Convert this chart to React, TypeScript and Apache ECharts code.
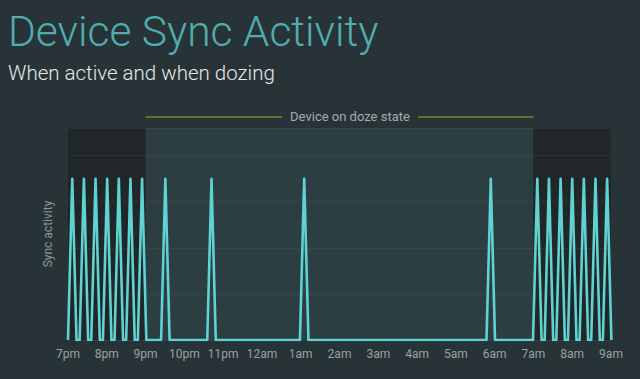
import React, { useEffect, useRef } from "react";
import * as echarts from "echarts";

const tickLabels = ["7pm", "8pm", "9pm", "10pm", "11pm", "12am", "1am", "2am", "3am", "4am", "5am", "6am", "7am", "8am", "9am"];
const activeBeforeSpikes = [0.11, 0.41, 0.71, 1.01, 1.31, 1.61, 1.91];
const dozeSpikes = [2.51, 3.7, 6.09, 10.9];
const activeAfterSpikes = [12.1, 12.4, 12.7, 13.0, 13.3, 13.6, 13.9];
const spikeHeight = 3.5;
const spikeHalfWidth = 0.11;
const dozeStart = 2;
const dozeEnd = 12;
const hoursMax = 14;

const BG = "#283337";
const DARK = "#212729";
const DOZE = "#2c3e42";
const LINE = "#5fd2d2";

function buildLine(): number[][] {
  const times = [...activeBeforeSpikes, ...dozeSpikes, ...activeAfterSpikes];
  const pts: number[][] = [];
  times.forEach((t) => {
    pts.push([t - spikeHalfWidth, 0]);
    pts.push([t, spikeHeight]);
    pts.push([t + spikeHalfWidth, 0]);
  });
  return pts;
}

export default function App() {
  const ref = useRef<HTMLDivElement>(null);
  useEffect(() => {
    document.body.style.margin = "0";
    const chart = echarts.init(ref.current!, null, { renderer: "svg" });
    chart.setOption({
      animation: false,
      backgroundColor: BG,
      title: [
        {
          text: "Device Sync Activity",
          left: 3,
          top: 5,
          textStyle: { fontFamily: "Roboto", fontWeight: 300, fontSize: 42.5, color: "#51adb0" },
        },
        {
          text: "When active and when dozing",
          left: 3,
          top: 57,
          textStyle: { fontFamily: "Roboto", fontWeight: 300, fontSize: 20.5, color: "#e6e8e8" },
        },
      ],
      grid: { left: 68, right: 29, top: 128, bottom: 39 },
      xAxis: {
        type: "value",
        min: 0,
        max: hoursMax,
        interval: 1,
        axisLine: { show: false },
        axisTick: { show: false },
        splitLine: { show: false },
        axisLabel: {
          color: "#98a2a4",
          fontFamily: "Roboto",
          fontSize: 12,
          margin: 8,
          formatter: (v: number) => tickLabels[Math.round(v)] ?? "",
        },
      },
      yAxis: {
        type: "value",
        min: 0,
        max: 4.6,
        interval: 1,
        z: 1.5,
        name: "Sync activity",
        nameLocation: "middle",
        nameGap: 14,
        nameTextStyle: { color: "#8c9799", fontFamily: "Roboto", fontSize: 12 },
        axisLine: { show: false },
        axisTick: { show: false },
        axisLabel: { show: false },
        splitLine: { lineStyle: { color: "rgba(255,255,255,0.05)", width: 1 } },
      },
      series: [
        {
          type: "line",
          data: buildLine(),
          showSymbol: false,
          z: 3,
          lineStyle: { color: LINE, width: 2.6, join: "round" },
          markArea: {
            silent: true,
            z: 0.5,
            data: [
              [{ xAxis: 0, itemStyle: { color: DARK, opacity: 1 } }, { xAxis: dozeStart }],
              [{ xAxis: dozeStart, itemStyle: { color: DOZE, opacity: 1 } }, { xAxis: dozeEnd }],
              [{ xAxis: dozeEnd, itemStyle: { color: DARK, opacity: 1 } }, { xAxis: hoursMax }],
            ],
          },
        },
      ],
    });
    const x0 = chart.convertToPixel({ xAxisIndex: 0 }, dozeStart) as number;
    const x1 = chart.convertToPixel({ xAxisIndex: 0 }, dozeEnd) as number;
    const lineColor = "#7f7f2c";
    chart.setOption({
      graphic: [
        { type: "line", shape: { x1: x0, y1: 117, x2: 282, y2: 117 }, style: { stroke: lineColor, lineWidth: 1.5 } },
        { type: "line", shape: { x1: 418, y1: 117, x2: x1, y2: 117 }, style: { stroke: lineColor, lineWidth: 1.5 } },
        {
          type: "text",
          x: 350,
          y: 116,
          style: {
            text: "Device on doze state",
            fill: "#a3adaf",
            font: "13px Roboto",
            textAlign: "center",
            textVerticalAlign: "middle",
          },
        },
      ],
    });
    return () => chart.dispose();
  }, []);
  return <div ref={ref} style={{ width: 640, height: 379, position: "fixed", left: 0, top: 0 }} />;
}
